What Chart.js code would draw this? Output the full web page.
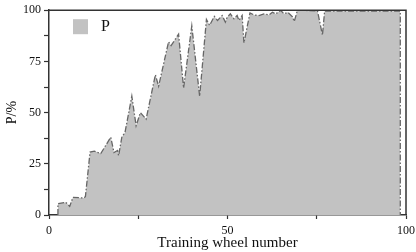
<!DOCTYPE html>
<html><head><meta charset="utf-8">
<script src="https://cdn.jsdelivr.net/npm/chart.js@4"></script>
<style>html,body{margin:0;padding:0;background:#fff}#wrap{width:416px;height:252px}</style>
</head><body><div id="wrap"><canvas id="c" width="416" height="252"></canvas></div>
<script>
const seriesName = "P";
const roundX = [2.5,2.5,4.7,5.8,6.7,9.8,10.2,11.5,12.7,14.5,17.3,18.2,19.2,19.5,20.4,21.3,23.2,24.4,25.6,27.2,29.8,30.7,33.5,34.2,36.3,37.7,40.0,42.2,44.1,45.0,46.3,47.2,48.5,49.4,49.9,50.8,51.8,52.7,53.2,54.1,54.6,56.3,57.4,58.8,60.2,61.6,62.6,63.5,64.9,65.8,66.9,68.2,68.7,69.6,75.2,76.6,77.2,98.4,98.4];
const pValues = [0,5.5,6.2,4.2,8.6,8.3,9,30.7,31.2,30,38,30.5,31.5,29,38,40.4,58,43.6,50,46.8,68.5,62.9,84.6,82.7,88.3,62,92.3,58,95.5,92.6,97,95,97.4,94.2,96.5,98.2,95.8,97.4,95,97.4,84,98.7,97.7,97.4,98.2,97.7,99,98.2,99.9,98.2,99,96.8,94.5,100,99.7,87.8,99.5,99.5,0];
const baseX = [2.5,98.4];
const baseY = [0,0];
const xTicks = [0,50,100];
const yTicks = [0,25,50,75,100];

const serif = "'Liberation Serif','DejaVu Serif',serif";
const axisColor = '#333';
const fillColor = '#c2c2c2';
const dash = [6,2,1.5,2];

const framePlugin = {
  id:'frame',
  afterDraw(chart){
    const {ctx, chartArea:a} = chart;
    ctx.save();
    ctx.strokeStyle = axisColor; ctx.lineWidth = 1.5;
    ctx.beginPath();
    ctx.moveTo(a.left, a.top); ctx.lineTo(a.right, a.top); ctx.lineTo(a.right, a.bottom);
    ctx.stroke();
    // legend inside plot area
    const bx = a.left + 24, by = a.top + 9;
    ctx.fillStyle = fillColor;
    ctx.fillRect(bx, by, 15, 15);
    ctx.fillStyle = '#111';
    ctx.font = "16px " + serif;
    ctx.textBaseline = 'middle';
    ctx.textAlign = 'left';
    ctx.fillText(seriesName, bx + 28, by + 8);
    ctx.restore();
  }
};

new Chart(document.getElementById('c'), {
  type:'line',
  data:{
    datasets:[
      {label:seriesName, data:roundX.map((x,i)=>({x, y:pValues[i]})), fill:'origin',
       backgroundColor:fillColor, borderColor:'#666', borderWidth:1.3, borderDash:dash,
       pointRadius:0, tension:0},
      {label:'base', data:baseX.map((x,i)=>({x, y:baseY[i]})), fill:false,
       borderColor:'#666', borderWidth:1.3, borderDash:dash, pointRadius:0}
    ]
  },
  options:{
    responsive:false, animation:false,
    layout:{padding:{top:8,right:10,left:0,bottom:0}},
    plugins:{
      tooltip:{enabled:false},
      legend:{display:false}
    },
    scales:{
      x:{type:'linear', min:0, max:100,
        afterBuildTicks(s){ s.ticks=[0,25,50,75,100].map(v=>({value:v})); },
        ticks:{callback:v=>xTicks.includes(v)?String(v):'', color:'#111', font:{family:serif,size:12}, maxRotation:0, padding:5},
        grid:{drawOnChartArea:false, drawTicks:true, tickLength:4, color:axisColor, tickWidth:1.2},
        border:{color:axisColor, width:1.5},
        title:{display:true, text:'Training wheel number', color:'#111', font:{family:serif,size:15}, padding:{top:0,bottom:0}},
        afterFit(s){ s.height = 37; s.paddingLeft = 0; s.paddingRight = 0; }
      },
      y:{min:0, max:100,
        afterBuildTicks(s){ s.ticks=[0,12.5,25,37.5,50,62.5,75,87.5,100].map(v=>({value:v})); },
        ticks:{callback:v=>yTicks.includes(v)?String(v):'', color:'#111', font:{family:serif,size:12}, padding:3},
        grid:{drawOnChartArea:false, drawTicks:true, tickLength:5, color:axisColor, tickWidth:1.2},
        border:{color:axisColor, width:1.5},
        title:{display:true, text:'P/%', color:'#111', font:{family:serif,size:14}, padding:{top:4,bottom:4}},
        afterFit(s){ s.width = 49; }
      }
    }
  },
  plugins:[framePlugin]
});
</script></body></html>
